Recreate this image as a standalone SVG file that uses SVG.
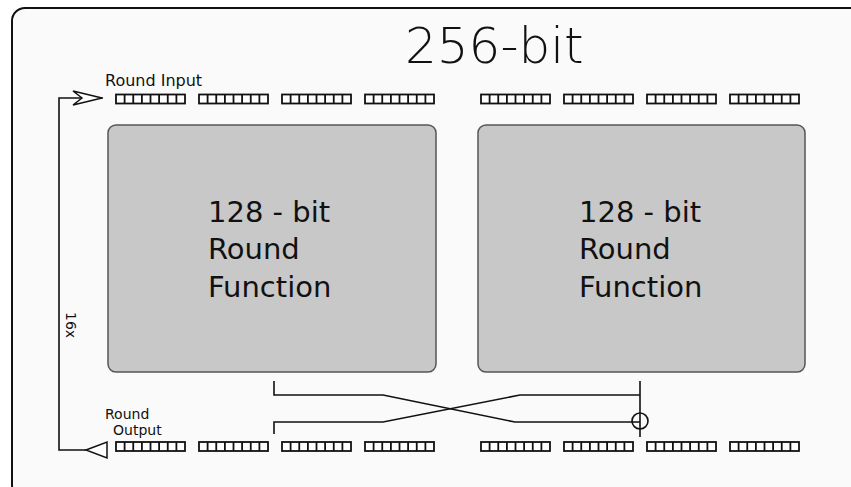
<svg xmlns="http://www.w3.org/2000/svg" xmlns:xlink="http://www.w3.org/1999/xlink" width="851" height="487" viewBox="0 0 851 487">
<style>
.lbl{font-family:"DejaVu Sans",sans-serif;fill:#111}
.big{font-family:"DejaVu Sans",sans-serif;font-size:29px;fill:#111}
.box{fill:#c8c8c8;stroke:#555;stroke-width:1.5}
.wire{fill:none;stroke:#111;stroke-width:1.6}
.cell{fill:#fff;stroke:#111;stroke-width:1.8}
</style>
<defs>
<g id="byte">
<rect class="cell" x="0" y="0" width="69" height="9"/>
<path d="M8.6 0v9M17.25 0v9M25.9 0v9M34.5 0v9M43.1 0v9M51.75 0v9M60.4 0v9" stroke="#111" stroke-width="1.8"/>
</g>
</defs>
<rect x="0" y="0" width="851" height="487" fill="#fff"/>
<rect id="frame" x="12" y="8" width="870" height="490" rx="13" fill="#fafafa" stroke="#111" stroke-width="2"/>
<text class="lbl" x="405" y="63" style="font-size:50px;font-weight:200">256-bit</text>
<g id="round-input">
<text class="lbl" x="105" y="86" font-size="16">Round Input</text>
<use xlink:href="#byte" x="116" y="94.5"/>
<use xlink:href="#byte" x="199" y="94.5"/>
<use xlink:href="#byte" x="282" y="94.5"/>
<use xlink:href="#byte" x="365" y="94.5"/>
<use xlink:href="#byte" x="481" y="94.5"/>
<use xlink:href="#byte" x="564" y="94.5"/>
<use xlink:href="#byte" x="647" y="94.5"/>
<use xlink:href="#byte" x="730" y="94.5"/>
</g>
<g id="round-output">
<text class="lbl" x="105" y="419" font-size="14">Round</text>
<text class="lbl" x="113" y="435" font-size="14">Output</text>
<use xlink:href="#byte" x="116" y="442"/>
<use xlink:href="#byte" x="199" y="442"/>
<use xlink:href="#byte" x="282" y="442"/>
<use xlink:href="#byte" x="365" y="442"/>
<use xlink:href="#byte" x="481" y="442"/>
<use xlink:href="#byte" x="564" y="442"/>
<use xlink:href="#byte" x="647" y="442"/>
<use xlink:href="#byte" x="730" y="442"/>
</g>
<g id="rf-left">
<rect class="box" x="108" y="125" width="328" height="247" rx="8"/>
<text class="big" x="208" y="222">128 - bit</text>
<text class="big" x="208" y="259">Round</text>
<text class="big" x="208" y="297">Function</text>
</g>
<g id="rf-right">
<rect class="box" x="478" y="125" width="327" height="247" rx="8"/>
<text class="big" x="579" y="222">128 - bit</text>
<text class="big" x="579" y="259">Round</text>
<text class="big" x="579" y="297">Function</text>
</g>
<g id="connectors">
<path class="wire" d="M103 98H59V450H86"/>
<path d="M102 98L73 91L82 98L73 105Z" fill="#fff" stroke="#111" stroke-width="1.5" stroke-linejoin="miter"/>
<path d="M86 450L107 442V458Z" fill="#fff" stroke="#111" stroke-width="1.5"/>
<text class="lbl" x="0" y="0" font-size="14" transform="translate(66,312) rotate(90)">16x</text>
<path class="wire" d="M274 381V395H383L515 422H640"/>
<path class="wire" d="M274 434V422H383L520 395H640"/>
<path class="wire" d="M640 381V437"/>
<circle cx="640" cy="421" r="8" fill="none" stroke="#111" stroke-width="1.6"/>
</g>
</svg>
